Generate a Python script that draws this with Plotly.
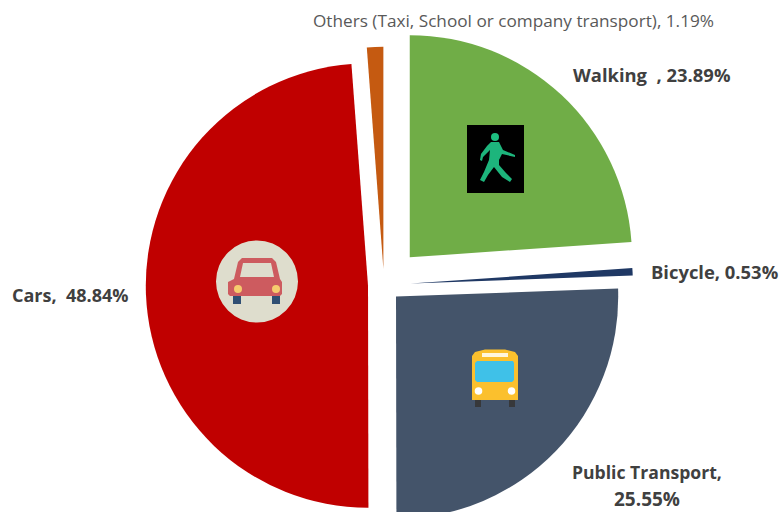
import plotly.graph_objects as go

categories = ["Walking", "Bicycle", "Public Transport", "Cars", "Others (Taxi, School or company transport)"]
shares = [23.89, 0.53, 25.55, 48.84, 1.19]
slice_pull = [0.17, 0.12, 0.075, 0.072, 0.072]
slice_colors = ["#70AD47", "#1F3864", "#44546A", "#C00000", "#C55A11"]

W, H = 782, 545

def px(x): return x / W
def py(y): return 1 - y / H

def rect(x0, y0, x1, y1, color):
    return dict(type="rect", xref="paper", yref="paper", x0=px(x0), y0=py(y0), x1=px(x1), y1=py(y1),
                fillcolor=color, line_width=0, layer="above")

def circle(cx, cy, r, color):
    return dict(type="circle", xref="paper", yref="paper", x0=px(cx-r), y0=py(cy-r), x1=px(cx+r), y1=py(cy+r),
                fillcolor=color, line_width=0, layer="above")

def poly(points, color):
    d = "M " + " L ".join(f"{px(x):.5f},{py(y):.5f}" for x, y in points) + " Z"
    return dict(type="path", xref="paper", yref="paper", path=d, fillcolor=color, line_width=0, layer="above")

shapes = [
    # car icon
    circle(257, 281.5, 41, "#DEDDCD"),
    rect(233, 294, 241, 304, "#2F4F73"),
    rect(272, 294, 280, 304, "#2F4F73"),
    poly([(234, 279), (238, 262), (242, 258), (272, 258), (276, 262), (280, 279), (282, 282), (282, 294),
          (280, 296), (230, 296), (228, 294), (228, 282)], "#CD5B5F"),
    poly([(243, 263), (271, 263), (274, 277), (240, 277)], "#DEDDCD"),
    circle(238, 289, 4, "#F6CB6E"),
    circle(276, 289, 4, "#F6CB6E"),
    # bus icon
    rect(475, 398, 481, 407, "#37383A"),
    rect(509, 398, 515, 407, "#37383A"),
    poly([(472, 356), (475, 352), (485, 349.5), (505, 349.5), (515, 352), (518, 356), (518, 400), (472, 400)], "#FBC02D"),
    rect(482, 353, 508, 357, "#FFF6DC"),
    poly([(477, 361), (513, 361), (514, 363), (514, 380), (512, 382), (477, 382), (475, 380), (475, 363)], "#3FC1E8"),
    circle(478.5, 391, 3.8, "#FFFFFF"),
    circle(511.5, 391, 3.8, "#FFFFFF"),
    # walking signal icon
    rect(467, 125, 524, 193, "#000000"),
    circle(495, 137, 4, "#1DBE80"),
    poly([(491, 142), (499, 142), (503, 150), (515, 155), (515, 157), (502, 154), (499, 160), (499, 165),
          (506, 173), (512, 179), (510, 182), (502, 177), (494, 167), (488, 175), (484, 182), (480, 180),
          (484, 172), (489, 160), (490, 150), (483, 157), (482, 161), (480, 160), (481, 154), (487, 146)], "#1DB57C"),
]

FONT = "Open Sans"
BOLD = "#404040"

def label(text, x, y, color=BOLD, size=18.4, bold=True):
    return dict(text=f"<b>{text}</b>" if bold else text, x=px(x), y=py(y), xref="paper", yref="paper",
                xanchor="left", yanchor="middle", showarrow=False,
                font=dict(family=FONT, size=size, color=color))

annotations = [
    label("Others (Taxi, School or company transport), 1.19%", 311, 21, "#595959", 17.2, False),
    label("Walking&nbsp;&nbsp;, 23.89%", 571, 74),
    label("Bicycle, 0.53%", 649, 271),
    label("Cars,&nbsp;&nbsp;48.84%", 10, 295, size=18),
    label("Public Transport,", 570, 472, size=17.6),
    label("25.55%", 612, 499, size=19),
]

fig = go.Figure(go.Pie(
    labels=categories, values=shares, pull=slice_pull, sort=False, direction="clockwise", rotation=0,
    marker=dict(colors=slice_colors, line=dict(width=0)), textinfo="none", hoverinfo="label+percent",
    domain=dict(x=[0, 768 / W], y=[0, (H - 25) / H]), showlegend=False,
))
fig.update_layout(width=W, height=H, margin=dict(l=0, r=0, t=0, b=0), paper_bgcolor="white",
                  shapes=shapes, annotations=annotations)
fig.write_html("out.html", config=dict(displayModeBar=False),
               post_script="document.body.style.margin='0';document.body.style.overflow='hidden';document.documentElement.style.overflow='hidden';")
